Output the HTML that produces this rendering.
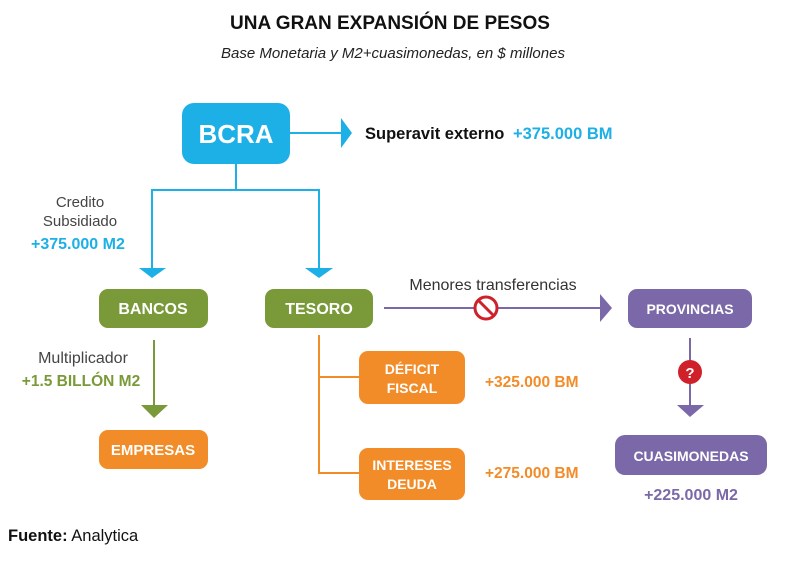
<!DOCTYPE html><html><head><meta charset="utf-8"><style>
body{margin:0;width:800px;height:561px;background:#fff;overflow:hidden;font-family:"Liberation Sans",sans-serif}
</style></head><body>
<svg width="800" height="561" xmlns="http://www.w3.org/2000/svg" font-family="Liberation Sans, sans-serif">
<text x="390" y="29" text-anchor="middle" font-size="19" font-weight="bold" fill="#111">UNA GRAN EXPANSIÓN DE PESOS</text>
<text x="393" y="58" text-anchor="middle" font-size="15" font-style="italic" fill="#222">Base Monetaria y M2+cuasimonedas, en $ millones</text>
<!-- BCRA -->
<rect x="182" y="103" width="108" height="61" rx="12" fill="#1cb0e6"/>
<text x="236" y="143" text-anchor="middle" font-size="26" font-weight="bold" fill="#fff">BCRA</text>
<line x1="290" y1="133" x2="342" y2="133" stroke="#1cb0e6" stroke-width="2"/>
<polygon points="341,118 352,133 341,148" fill="#1cb0e6"/>
<text x="365" y="139" font-size="16.5" font-weight="bold" fill="#111">Superavit externo</text>
<text x="513" y="139" font-size="16.5" font-weight="bold" fill="#1cb0e6">+375.000 BM</text>
<polyline points="236,164 236,190 152,190 152,270" fill="none" stroke="#1cb0e6" stroke-width="2"/>
<polyline points="236,190 319,190 319,270" fill="none" stroke="#1cb0e6" stroke-width="2"/>
<polygon points="139,268 166,268 152,278" fill="#1cb0e6"/>
<polygon points="305,268 333,268 319,278" fill="#1cb0e6"/>
<text x="80" y="207" text-anchor="middle" font-size="15" fill="#444">Credito</text>
<text x="80" y="226" text-anchor="middle" font-size="15" fill="#444">Subsidiado</text>
<text x="31" y="249" font-size="16" font-weight="bold" fill="#1cb0e6">+375.000 M2</text>
<!-- green -->
<rect x="99" y="289" width="109" height="39" rx="9" fill="#7a9a3a"/>
<text x="153" y="314" text-anchor="middle" font-size="16" font-weight="bold" fill="#fff">BANCOS</text>
<rect x="265" y="289" width="108" height="39" rx="9" fill="#7a9a3a"/>
<text x="319" y="314" text-anchor="middle" font-size="16" font-weight="bold" fill="#fff">TESORO</text>
<text x="83" y="363" text-anchor="middle" font-size="16" fill="#444">Multiplicador</text>
<text x="81" y="386" text-anchor="middle" font-size="15.5" font-weight="bold" fill="#7a9a3a">+1.5 BILLÓN M2</text>
<line x1="154" y1="340" x2="154" y2="407" stroke="#7a9a3a" stroke-width="2"/>
<polygon points="141,405 168,405 154,418" fill="#7a9a3a"/>
<rect x="99" y="430" width="109" height="39" rx="9" fill="#f28c28"/>
<text x="153" y="455" text-anchor="middle" font-size="15" font-weight="bold" fill="#fff">EMPRESAS</text>
<!-- purple -->
<line x1="384" y1="308" x2="602" y2="308" stroke="#7b68a8" stroke-width="2"/>
<polygon points="600,294 612,308 600,322" fill="#7b68a8"/>
<text x="493" y="290" text-anchor="middle" font-size="16" fill="#333">Menores transferencias</text>
<circle cx="486" cy="308" r="11" fill="#fff" stroke="#d0202a" stroke-width="3"/>
<line x1="479" y1="301" x2="493" y2="315" stroke="#d0202a" stroke-width="3"/>
<rect x="628" y="289" width="124" height="39" rx="9" fill="#7b68a8"/>
<text x="690" y="314" text-anchor="middle" font-size="14" font-weight="bold" fill="#fff">PROVINCIAS</text>
<line x1="690" y1="338" x2="690" y2="407" stroke="#7b68a8" stroke-width="2"/>
<circle cx="690" cy="372" r="12" fill="#d0202a"/>
<text x="690" y="378" text-anchor="middle" font-size="15" font-weight="bold" fill="#fff">?</text>
<polygon points="677,405 704,405 690,417" fill="#7b68a8"/>
<rect x="615" y="435" width="152" height="40" rx="10" fill="#7b68a8"/>
<text x="691" y="461" text-anchor="middle" font-size="14" font-weight="bold" fill="#fff">CUASIMONEDAS</text>
<text x="691" y="500" text-anchor="middle" font-size="16" font-weight="bold" fill="#7b68a8">+225.000 M2</text>
<!-- orange -->
<polyline points="319,335 319,473 360,473" fill="none" stroke="#f28c28" stroke-width="2"/>
<line x1="319" y1="377" x2="360" y2="377" stroke="#f28c28" stroke-width="2"/>
<rect x="359" y="351" width="106" height="53" rx="9" fill="#f28c28"/>
<text x="412" y="374" text-anchor="middle" font-size="14" font-weight="bold" fill="#fff">DÉFICIT</text>
<text x="412" y="393" text-anchor="middle" font-size="14" font-weight="bold" fill="#fff">FISCAL</text>
<rect x="359" y="448" width="106" height="52" rx="9" fill="#f28c28"/>
<text x="412" y="470" text-anchor="middle" font-size="14" font-weight="bold" fill="#fff">INTERESES</text>
<text x="412" y="489" text-anchor="middle" font-size="14" font-weight="bold" fill="#fff">DEUDA</text>
<text x="485" y="387" font-size="15.5" font-weight="bold" fill="#f28c28">+325.000 BM</text>
<text x="485" y="478" font-size="15.5" font-weight="bold" fill="#f28c28">+275.000 BM</text>
<text x="8" y="541" font-size="16.5" fill="#111"><tspan font-weight="bold">Fuente:</tspan> Analytica</text>
</svg>
</body></html>
